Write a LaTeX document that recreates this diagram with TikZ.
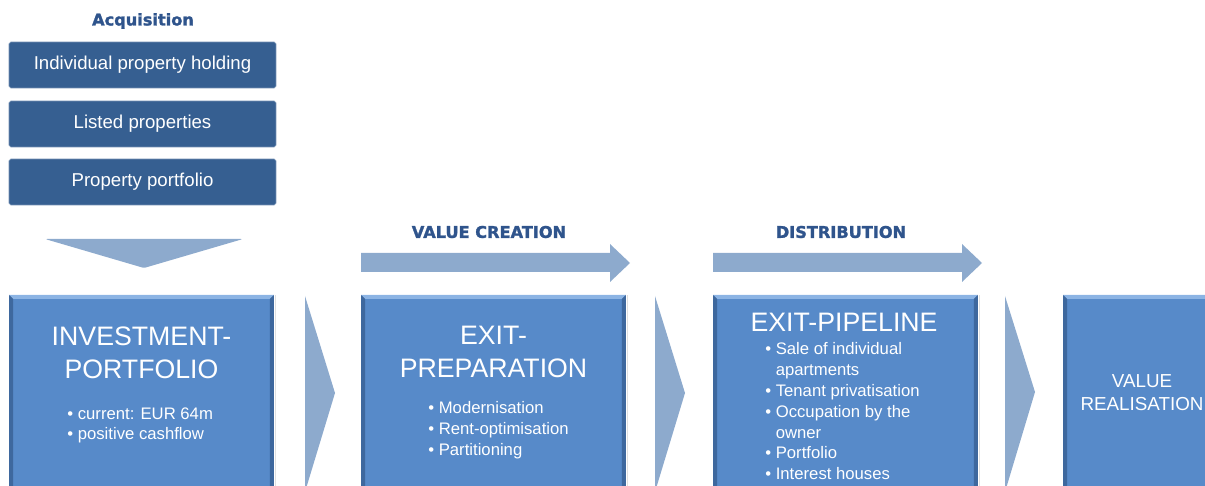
\documentclass[tikz,border=0pt]{standalone}
\usepackage{fontspec}
\setmainfont{Liberation Sans}
\newfontfamily\headfont[FakeBold=1.6]{DejaVu Sans Bold}
\definecolor{darkbox}{RGB}{54,95,145}
\definecolor{stepblue}{RGB}{87,138,201}
\definecolor{steplight}{RGB}{140,180,228}
\definecolor{stepdark}{RGB}{62,104,158}
\definecolor{arrowblue}{RGB}{141,170,205}
\definecolor{headblue}{RGB}{47,84,140}
\newcommand{\itm}{\textbullet\ }
\newcommand{\hang}{\hphantom{\textbullet\ }}
\begin{document}
\begin{tikzpicture}[x=0.02cm,y=-0.02cm,
  acqbox/.style={fill=darkbox, draw=darkbox!70!white, line width=0.4pt, rounded corners=1pt,
    minimum width=5.34cm, minimum height=0.92cm, text=white, font=\fontsize{10.6}{12}\selectfont},
  stepbox/.style={fill=stepblue, minimum width=5.28cm, minimum height=4.2cm, anchor=north, inner sep=0pt},
  heading/.style={text=headblue, font=\headfont\fontsize{9.2}{11}\selectfont},
  title/.style={text=white, align=center, font=\fontsize{15.2}{18.6}\selectfont},
  bullets/.style={text=white, align=left, anchor=north west, inner sep=0pt, font=\fontsize{9.5}{11.9}\selectfont},
  blockarrow/.style={fill=arrowblue}]
\clip (0,0) rectangle (1205,486);
%%%%%%%%%%%%%
\node[heading] (acq) at (143,21) {Acquisition};
\node[acqbox] (holding) at (142.5,65) {Individual property holding};
\node[acqbox] (listed) at (142.5,124) {Listed properties};
\node[acqbox] (portfolio) at (142.5,182) {Property portfolio};
\fill[blockarrow, rounded corners=1pt] (45,239) -- (243,239) -- (144,268) -- cycle;
%%%%%%%%%%%%%
\node[stepbox] (invest) at (141.5,295) {};
\node[stepbox] (prep) at (493.5,295) {};
\node[stepbox] (pipe) at (845.5,295) {};
\node[stepbox] (real) at (1195.5,295) {};
% bevel on the four steps
\foreach \b in {invest,prep,pipe,real}{
  \fill[steplight] (\b.north west) -- (\b.north east) -- ([xshift=-0.08cm,yshift=-0.08cm]\b.north east)
    -- ([xshift=0.08cm,yshift=-0.08cm]\b.north west) -- cycle;
  \fill[stepdark] (\b.north west) -- ([xshift=0.08cm,yshift=-0.08cm]\b.north west) -- ([xshift=0.08cm]\b.south west) -- (\b.south west) -- cycle;
  \fill[stepdark] (\b.north east) -- ([xshift=-0.08cm,yshift=-0.08cm]\b.north east) -- ([xshift=-0.08cm]\b.south east) -- (\b.south east) -- cycle;
  \fill[black!12] ([xshift=0.02cm]\b.north east) rectangle ([xshift=0.05cm]\b.south east);
}
%%%%%%%%%%%%%
\fill[blockarrow] (305,296) -- (335,393) -- (305,492) -- cycle;
\fill[blockarrow] (655,296) -- (685,393) -- (655,492) -- cycle;
\fill[blockarrow] (1005,296) -- (1035,392) -- (1005,492) -- cycle;
%%%%%%%%%%%%%
\node[heading] (create) at (489,232) {VALUE CREATION};
\node[heading] (distrib) at (841,232) {DISTRIBUTION};
\fill[blockarrow] (361,253) -- (610,253) -- (610,244) -- (630,263) -- (610,282) -- (610,272) -- (361,272) -- cycle;
\fill[blockarrow] (713,253) -- (962,253) -- (962,244) -- (982,263) -- (962,282) -- (962,272) -- (713,272) -- cycle;
%%%%%%%%%%%%%
\node[title] (investtitle) at (141.5,353) {INVESTMENT-\\PORTFOLIO};
\node[bullets] (investlist) at (67,407) {\itm current: EUR 64m\\\itm positive cashflow};
\node[title] (preptitle) at (493.5,352) {EXIT-\\PREPARATION};
\node[bullets] (preplist) at (428,401) {\itm Modernisation\\\itm Rent-optimisation\\\itm Partitioning};
\node[title] (pipetitle) at (844,322) {EXIT-PIPELINE};
\node[bullets] (pipelist) at (765,342) {\itm Sale of individual\\\hang apartments\\\itm Tenant privatisation\\\itm Occupation by the\\\hang owner\\\itm Portfolio\\\itm Interest houses};
\node[title, font=\fontsize{10.7}{13}\selectfont] (realtitle) at (1142,393) {VALUE\\REALISATION};
\end{tikzpicture}
\end{document}
